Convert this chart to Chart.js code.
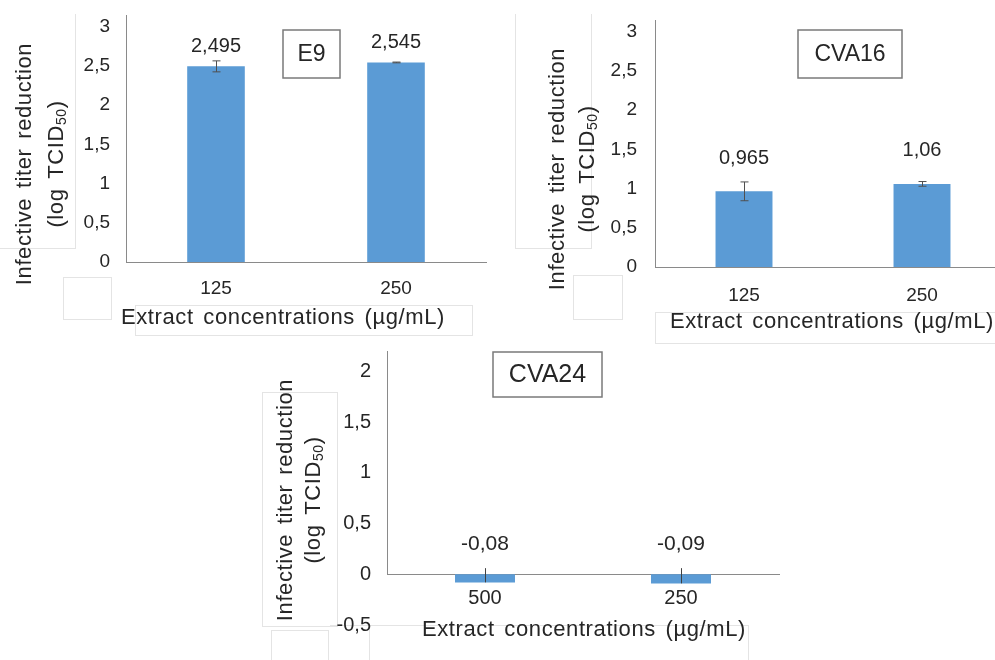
<!DOCTYPE html>
<html><head><meta charset="utf-8">
<script src="https://cdn.jsdelivr.net/npm/chart.js@4.4.1/dist/chart.umd.min.js"></script>
<style>
html,body{margin:0;padding:0;background:#fff;width:995px;height:660px;overflow:hidden;position:relative}
canvas{position:absolute}
.fb{position:absolute;border:1px solid #e4e4e4;box-sizing:border-box}
</style></head><body>
<!-- faint leftover text-box frames -->
<div class="fb" style="left:-2px;top:14px;width:78px;height:235px;border-top:none"></div>
<div class="fb" style="left:63px;top:277px;width:49px;height:43px"></div>
<div class="fb" style="left:135px;top:305px;width:338px;height:31px"></div>
<div class="fb" style="left:515px;top:14px;width:77px;height:235px;border-top:none"></div>
<div class="fb" style="left:573px;top:275px;width:50px;height:45px"></div>
<div class="fb" style="left:655px;top:312px;width:345px;height:32px"></div>
<div class="fb" style="left:262px;top:392px;width:76px;height:235px"></div>
<div class="fb" style="left:271px;top:630px;width:58px;height:40px"></div>
<div class="fb" style="left:330px;top:625px;width:419px;height:45px;border-left:none"></div>
<div class="fb" style="left:369px;top:625px;width:1px;height:45px;border-width:0 0 0 1px"></div>

<canvas id="c1" width="490" height="340" style="left:0;top:0"></canvas>
<canvas id="c2" width="515" height="345" style="left:500px;top:0"></canvas>
<canvas id="c3" width="540" height="330" style="left:250px;top:330px"></canvas>
<script>
// ---------- data ----------
const e9Categories = ['125', '250'];
const e9Values = [2.495, 2.545];
const e9ErrPlus = [0.07, 0.005];
const e9ErrMinus = [0.07, 0.005];
const e9ValueLabels = ['2,495', '2,545'];
const e9YTicks = [0, 0.5, 1, 1.5, 2, 2.5, 3];

const cva16Categories = ['125', '250'];
const cva16Values = [0.965, 1.06];
const cva16ErrPlus = [0.12, 0.03];
const cva16ErrMinus = [0.12, 0.03];
const cva16ValueLabels = ['0,965', '1,06'];
const cva16YTicks = [0, 0.5, 1, 1.5, 2, 2.5, 3];

const cva24Categories = ['500', '250'];
const cva24Values = [-0.08, -0.09];
const cva24ErrPlus = [0.14, 0.15];
const cva24ErrMinus = [0, 0];
const cva24ValueLabels = ['-0,08', '-0,09'];
const cva24YTicks = [-0.5, 0, 0.5, 1, 1.5, 2];

const yTitleLine1 = 'Infective titer reduction';
const yTitleLine2 = ['(log TCID', '50', ')'];
const xTitle = 'Extract concentrations (µg/mL)';
const panelNames = ['E9', 'CVA16', 'CVA24'];

// ---------- style ----------
const FAM = '"Liberation Sans", Arial, Helvetica, sans-serif';
const TXT = '#262626';
const AXIS = '#8a8a8a';
const BAR = '#5B9BD5';

function setSpacing(ctx, ls, ws) {
  try { ctx.letterSpacing = ls + 'px'; ctx.wordSpacing = ws + 'px'; } catch (e) {}
}

const decoPlugin = {
  id: 'deco',
  afterDatasetsDraw(chart, args, o) {
    const ctx = chart.ctx, ys = chart.scales.y;
    const meta = chart.getDatasetMeta(0);
    const vals = chart.data.datasets[0].data;
    ctx.save();
    if (o.axisToZero) {
      const x = Math.round(chart.chartArea.left) + 0.5;
      ctx.strokeStyle = AXIS; ctx.lineWidth = 1;
      ctx.beginPath(); ctx.moveTo(x, chart.chartArea.top); ctx.lineTo(x, ys.getPixelForValue(0)); ctx.stroke();
    }
    ctx.strokeStyle = o.errColor; ctx.lineWidth = 1;
    meta.data.forEach((bar, i) => {
      const v = vals[i];
      const top = ys.getPixelForValue(v + o.errPlus[i]);
      const bot = ys.getPixelForValue(v - o.errMinus[i]);
      const x = Math.round(bar.x) + 0.5;
      ctx.beginPath(); ctx.moveTo(x, top); ctx.lineTo(x, bot);
      if (o.cap > 0 && o.errPlus[i] > 0) { ctx.moveTo(x - o.cap, top); ctx.lineTo(x + o.cap, top); }
      if (o.cap > 0 && o.errMinus[i] > 0) { ctx.moveTo(x - o.cap, bot); ctx.lineTo(x + o.cap, bot); }
      ctx.stroke();
    });
    ctx.fillStyle = TXT; ctx.font = o.labelSize + 'px ' + FAM;
    ctx.textAlign = 'center'; ctx.textBaseline = 'middle';
    meta.data.forEach((bar, i) => {
      ctx.fillText(o.labels[i], bar.x, ys.getPixelForValue(Math.max(vals[i], 0)) - o.labelOffset);
    });
    ctx.restore();
  },
  afterDraw(chart, args, o) {
    const ctx = chart.ctx;
    const t = o.titles;
    ctx.save();
    ctx.fillStyle = TXT;
    // y title line 1
    ctx.save();
    ctx.translate(t.y1x, t.yy); ctx.rotate(-Math.PI / 2);
    ctx.font = t.size + 'px ' + FAM; setSpacing(ctx, 0.6, 3);
    ctx.textAlign = 'center'; ctx.textBaseline = 'middle';
    ctx.fillText(yTitleLine1, 0, 0);
    ctx.restore();
    // y title line 2 with subscript
    ctx.save();
    ctx.translate(t.y2x, t.yy); ctx.rotate(-Math.PI / 2);
    ctx.textAlign = 'left'; ctx.textBaseline = 'middle';
    const fMain = t.size + 'px ' + FAM, fSub = Math.round(t.size * 0.62) + 'px ' + FAM;
    setSpacing(ctx, 0.6, 3);
    ctx.font = fMain; const w0 = ctx.measureText(yTitleLine2[0]).width;
    ctx.font = fSub; const w1 = ctx.measureText(yTitleLine2[1]).width;
    ctx.font = fMain; const w2 = ctx.measureText(yTitleLine2[2]).width;
    let cx = -(w0 + w1 + w2) / 2;
    ctx.font = fMain; ctx.fillText(yTitleLine2[0], cx, 0); cx += w0;
    ctx.font = fSub; ctx.fillText(yTitleLine2[1], cx, t.size * 0.22); cx += w1;
    ctx.font = fMain; ctx.fillText(yTitleLine2[2], cx, 0);
    ctx.restore();
    // x title
    ctx.font = t.size + 'px ' + FAM; setSpacing(ctx, 0.6, 3);
    ctx.textAlign = 'center'; ctx.textBaseline = 'middle';
    ctx.fillText(xTitle, t.xx, t.xy);
    setSpacing(ctx, 0, 0);
    // name box
    const b = o.box;
    ctx.fillStyle = '#fff'; ctx.fillRect(b.x, b.y, b.w, b.h);
    ctx.strokeStyle = '#7a7a7a'; ctx.lineWidth = 1.5; ctx.strokeRect(b.x, b.y, b.w, b.h);
    ctx.fillStyle = TXT; ctx.font = b.size + 'px ' + FAM;
    ctx.fillText(b.text, b.x + b.w / 2, b.y + b.h / 2 + 1);
    ctx.restore();
  }
};

function build(id, cats, vals, yTicks, cfg) {
  return new Chart(document.getElementById(id), {
    type: 'bar',
    data: { labels: cats, datasets: [{ data: vals, backgroundColor: BAR, borderWidth: 0,
      barPercentage: cfg.barPct, categoryPercentage: 1 }] },
    options: {
      responsive: false, animation: false, devicePixelRatio: 1,
      layout: { padding: cfg.padding },
      plugins: { legend: { display: false }, tooltip: { enabled: false }, deco: cfg.deco },
      scales: {
        x: {
          position: cfg.xPos,
          grid: { display: false, drawTicks: false },
          border: { display: true, color: AXIS, width: 1 },
          ticks: { padding: cfg.xTickPad, color: TXT, font: { family: FAM, size: cfg.tickSize } },
          afterFit: s => { s.height = cfg.xHeight; }
        },
        y: {
          min: cfg.min, max: cfg.max,
          grid: { display: false, drawTicks: true, tickLength: cfg.yTickPad },
          border: { display: cfg.yBorder, color: AXIS, width: 1 },
          ticks: { padding: 0, color: TXT, font: { family: FAM, size: cfg.tickSize },
            callback: v => String(v).replace('.', ',') },
          afterBuildTicks: s => { s.ticks = yTicks.map(v => ({ value: v })); },
          afterFit: s => { s.width = cfg.yWidth; }
        }
      }
    },
    plugins: [decoPlugin]
  });
}

build('c1', e9Categories, e9Values, e9YTicks, {
  barPct: 0.32, padding: { top: 15, right: 4, bottom: 0, left: 0 },
  xPos: 'bottom', xHeight: 78, xTickPad: 15, yWidth: 126, yTickPad: 16, yBorder: true,
  min: 0, max: 3.15, tickSize: 19,
  deco: { errPlus: e9ErrPlus, errMinus: e9ErrMinus, errColor: '#505050', cap: 4,
    labels: e9ValueLabels, labelSize: 20, labelOffset: 20,
    titles: { size: 22, y1x: 25, y2x: 57, yy: 164, xx: 283, xy: 318 },
    box: { text: panelNames[0], x: 283, y: 30, w: 57, h: 48, size: 23 } }
});

build('c2', cva16Categories, cva16Values, cva16YTicks, {
  barPct: 0.32, padding: { top: 20, right: 4, bottom: 0, left: 0 },
  xPos: 'bottom', xHeight: 78, xTickPad: 17, yWidth: 155, yTickPad: 18, yBorder: true,
  min: 0, max: 3.15, tickSize: 19,
  deco: { errPlus: cva16ErrPlus, errMinus: cva16ErrMinus, errColor: '#505050', cap: 4,
    labels: cva16ValueLabels, labelSize: 20, labelOffset: 33,
    titles: { size: 22, y1x: 58, y2x: 88, yy: 169, xx: 332, xy: 322 },
    box: { text: panelNames[1], x: 298, y: 30, w: 104, h: 48, size: 23 } }
});

build('c3', cva24Categories, cva24Values, cva24YTicks, {
  barPct: 0.306, padding: { top: 21, right: 11, bottom: 35, left: 0 },
  xPos: { y: 0 }, xHeight: 30, xTickPad: 12, yWidth: 137, yTickPad: 16, yBorder: false,
  min: -0.5, max: 2.2, tickSize: 20,
  deco: { axisToZero: true, errPlus: cva24ErrPlus, errMinus: cva24ErrMinus, errColor: '#404040', cap: 0,
    labels: cva24ValueLabels, labelSize: 21, labelOffset: 30,
    titles: { size: 22, y1x: 36, y2x: 64, yy: 170, xx: 334, xy: 300 },
    box: { text: panelNames[2], x: 243, y: 22, w: 109, h: 45, size: 25 } }
});
</script>
</body></html>
